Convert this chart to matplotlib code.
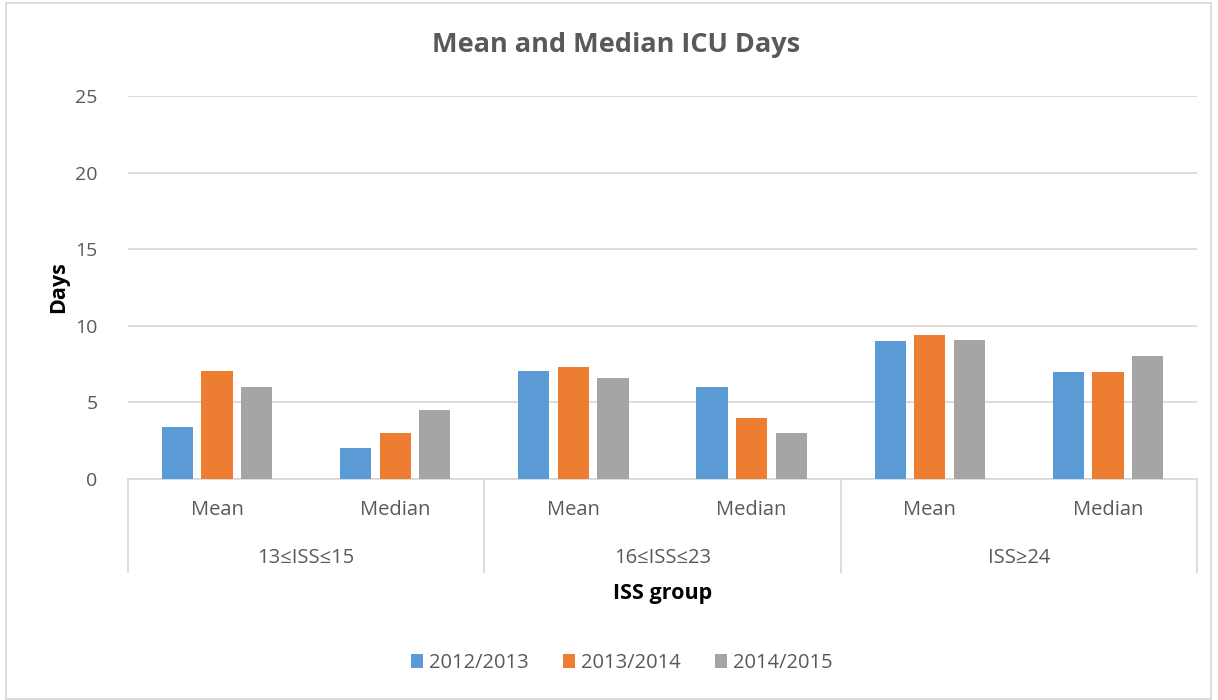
import matplotlib.pyplot as plt
from matplotlib.patches import Rectangle
import numpy as np

# chart data
groups = ['13≤ISS≤15', '16≤ISS≤23', 'ISS≥24']
stats = ['Mean', 'Median']
years = ['2012/2013', '2013/2014', '2014/2015']
vals_1213 = [3.4, 2.0, 7.05, 6.0, 9.0, 7.0]
vals_1314 = [7.07, 3.0, 7.33, 4.0, 9.43, 7.0]
vals_1415 = [6.0, 4.5, 6.57, 3.0, 9.06, 8.0]
colors = ['#5b9bd5', '#ed7d31', '#a5a5a5']

plt.rcParams['font.family'] = ['Open Sans', 'DejaVu Sans']
txt = '#595959'
line_c = '#d9d9d9'

fig = plt.figure(figsize=(12.18, 7), dpi=100)
ax = fig.add_axes([128/1218, 1-479/700, (1197-128)/1218, (479-96)/700])

x = np.arange(len(vals_1213))
width = 0.175
step = 0.222
for i, (v, c, lab) in enumerate(zip([vals_1213, vals_1314, vals_1415], colors, years)):
    ax.bar(x + (i-1)*step, v, width, color=c, label=lab, zorder=3)

ax.set_xlim(-0.5, 5.5)
ax.set_ylim(0, 25)
ax.set_yticks([0, 5, 10, 15, 20, 25])
ax.grid(axis='y', color=line_c, linewidth=1.3, zorder=0)
for s in ['top', 'right', 'left']:
    ax.spines[s].set_visible(False)
ax.spines['bottom'].set_color(line_c)
ax.spines['bottom'].set_linewidth(1.3)
ax.tick_params(axis='y', length=0, labelsize=14, colors=txt, pad=22)
ax.tick_params(axis='x', length=0, labelbottom=False)

# multi-level category axis
trans = ax.get_xaxis_transform()
for i in range(len(x)):
    ax.text(x[i], -0.08, stats[i % 2], transform=trans, ha='center', va='center',
            fontsize=14.5, color=txt)
for g, name in enumerate(groups):
    ax.text(2*g + 0.5, -0.205, name, transform=trans, ha='center', va='center',
            fontsize=14.5, color=txt)
for b in [-0.5, 1.5, 3.5, 5.5]:
    ax.plot([b, b], [0, -0.243], transform=trans, color=line_c, linewidth=1.3,
            clip_on=False)

ax.text(2.5, -0.298, 'ISS group', transform=trans, ha='center', va='center',
        fontsize=15.5, fontweight='bold', color='black')
ax.set_ylabel('Days', fontsize=15.5, fontweight='bold', color='black', labelpad=4)

fig.text(616/1218, 1-45/700, 'Mean and Median ICU Days', ha='center', va='center',
         fontsize=19.5, fontweight='bold', color=txt)

fig.legend(loc='center', bbox_to_anchor=(622/1218, 1-663/700), ncol=3, frameon=False,
           fontsize=14.5, labelcolor=txt, handlelength=0.6, handleheight=0.7,
           handletextpad=0.3, columnspacing=1.7)

fig.patches.append(Rectangle((6/1218, 1/700), 1205/1218, 696/700, transform=fig.transFigure,
                             fill=False, edgecolor=line_c, linewidth=1.3))

fig.savefig('out.png', dpi=100)
